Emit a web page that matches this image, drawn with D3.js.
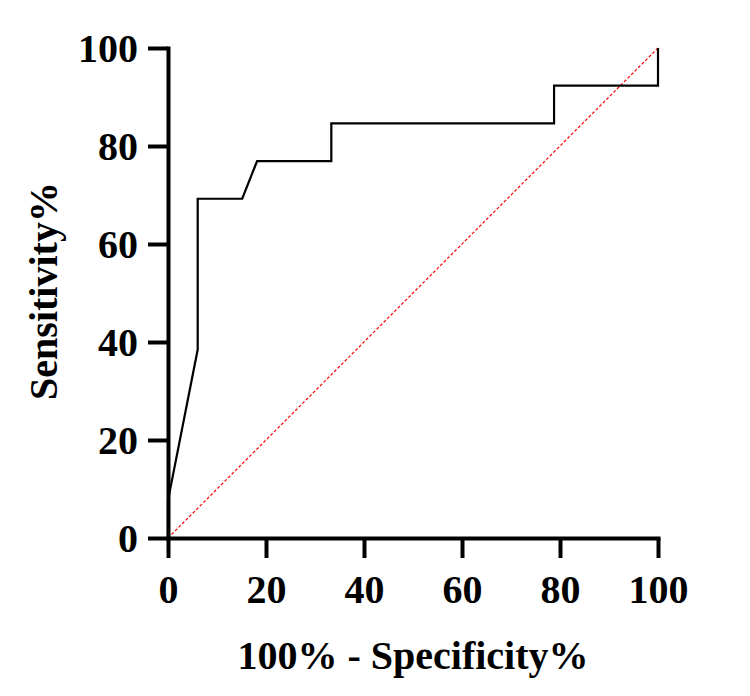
<!DOCTYPE html>
<html>
<head>
<meta charset="utf-8">
<script src="https://cdn.jsdelivr.net/npm/d3@7"></script>
<style>
  body { margin: 0; background: #fff; }
  svg text { font-family: "Liberation Serif", "Times New Roman", serif; font-weight: bold; }
</style>
</head>
<body>
<script>
// ROC curve
var fpr = [0, 0, 6.06, 6.06, 15.15, 18.18, 33.33, 33.33, 78.79, 78.79, 100, 100];
var tpr = [0, 7.69, 38.46, 69.23, 69.23, 76.92, 76.92, 84.62, 84.62, 92.31, 92.31, 100];
var refX = [0, 100];
var refY = [0, 100];
var xTicks = [0, 20, 40, 60, 80, 100];
var yTicks = [0, 20, 40, 60, 80, 100];
var xTitle = '100% - Specificity%';
var yTitle = 'Sensitivity%';

var width = 750, height = 696;
var plot = { left: 168, right: 658, top: 48, bottom: 538 };

var svg = d3.select('body').append('svg')
  .attr('width', width)
  .attr('height', height);

var x = d3.scaleLinear().domain([0, 100]).range([plot.left, plot.right]);
var y = d3.scaleLinear().domain([0, 100]).range([plot.bottom, plot.top]);

var line = d3.line()
  .x(function (d) { return x(d[0]); })
  .y(function (d) { return y(d[1]); });

// reference diagonal
svg.append('path')
  .datum(d3.zip(refX, refY))
  .attr('d', line)
  .style('stroke', '#ff0000')
  .style('stroke-width', 1.2)
  .style('stroke-dasharray', '3,2')
  .style('fill', 'none');

// roc curve
svg.append('path')
  .datum(d3.zip(fpr, tpr))
  .attr('d', line)
  .style('stroke', '#000')
  .style('stroke-width', 2.2)
  .style('fill', 'none');

var xAxis = svg.append('g')
  .attr('transform', 'translate(0,' + plot.bottom + ')')
  .call(d3.axisBottom(x).tickValues(xTicks).tickSize(20).tickSizeOuter(0).tickPadding(10));

var yAxis = svg.append('g')
  .attr('transform', 'translate(' + plot.left + ',0)')
  .call(d3.axisLeft(y).tickValues(yTicks).tickSize(20).tickSizeOuter(0).tickPadding(10));

[xAxis, yAxis].forEach(function (g) {
  g.select('.domain').style('stroke-width', 4).style('stroke-linecap', 'square');
  g.selectAll('.tick line').style('stroke-width', 4);
  g.selectAll('.tick text')
    .style('font-size', '40px')
    .style('fill', '#000');
});

xAxis.selectAll('.tick text').attr('y', 65).attr('dy', 0);
yAxis.selectAll('.tick text').attr('dy', '0.34em');

svg.append('text')
  .attr('x', x(50))
  .attr('y', 669)
  .attr('text-anchor', 'middle')
  .style('font-size', '40px')
  .text(xTitle);

svg.append('text')
  .attr('transform', 'translate(57,291) rotate(-90)')
  .attr('text-anchor', 'middle')
  .style('font-size', '40px')
  .text(yTitle);
</script>
</body>
</html>
